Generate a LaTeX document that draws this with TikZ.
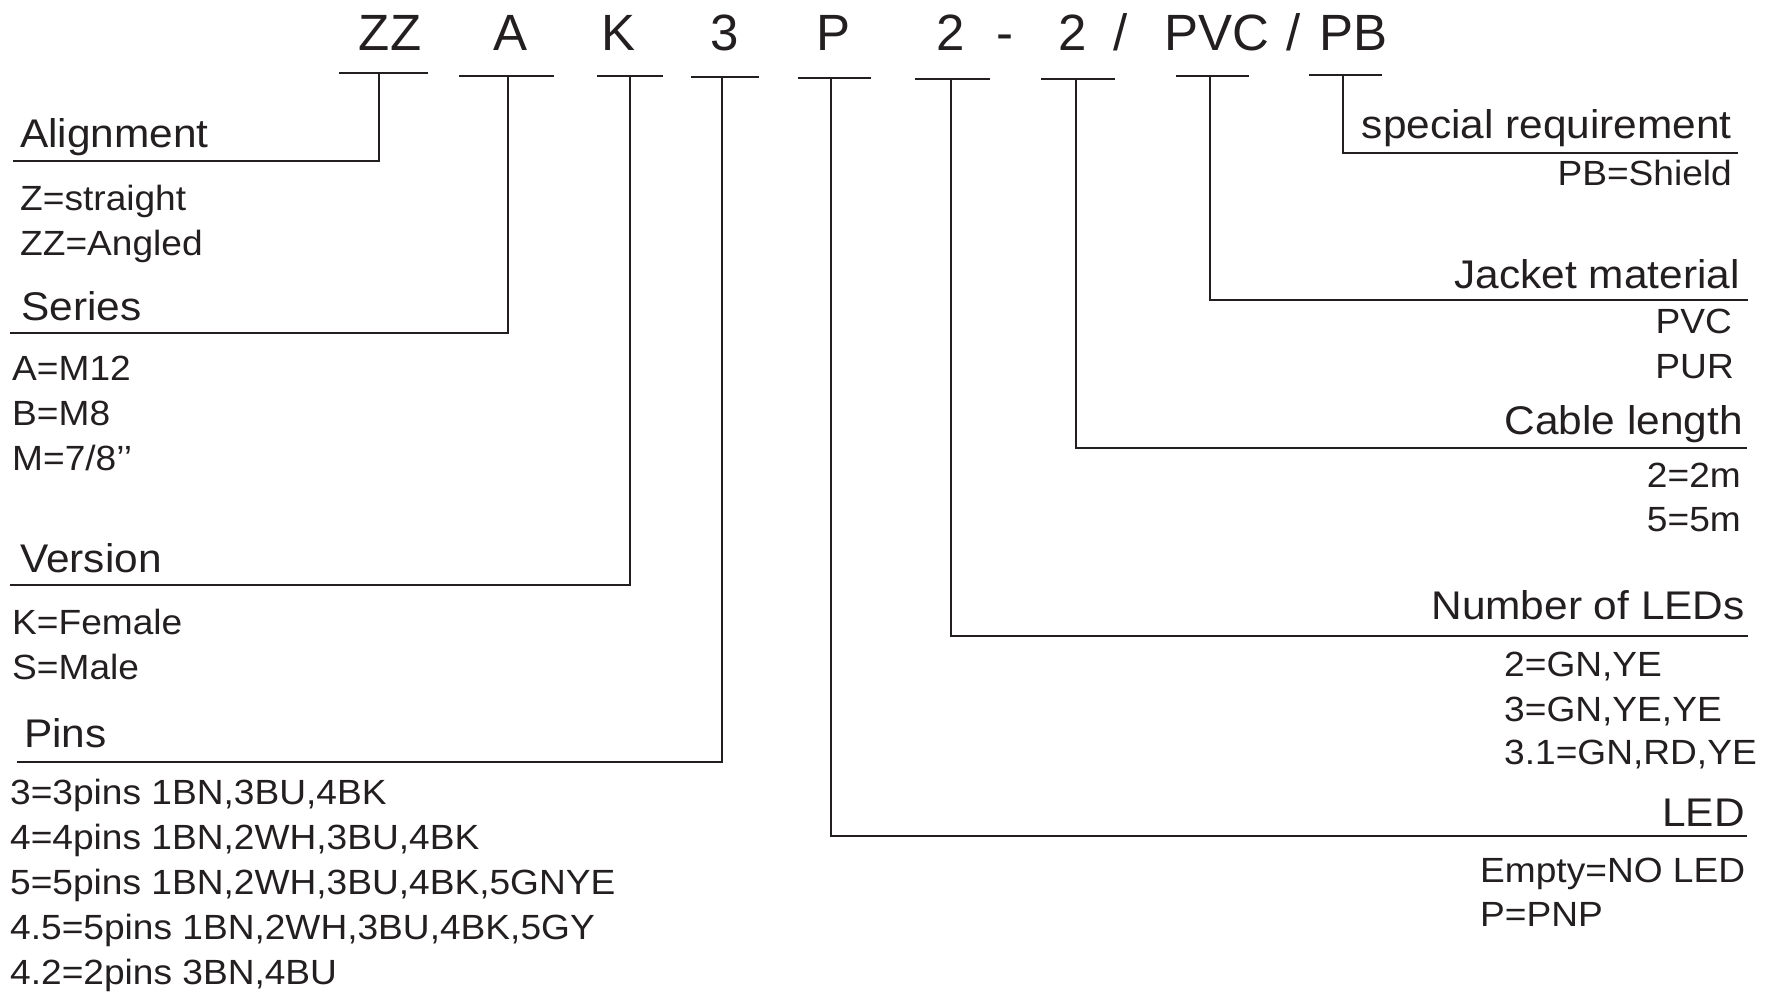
\documentclass[tikz,border=0pt]{standalone}
\usepackage{fontspec}
\setmainfont{Liberation Sans}
\newfontfamily\widefont[FakeStretch=1.06]{Liberation Sans}
\definecolor{ink}{RGB}{35,31,32}
\tikzset{
  code/.style={anchor=base, inner sep=0pt, font=\fontsize{51}{60}\selectfont, text=ink},
  cat/.style={inner sep=0pt, font=\widefont\fontsize{40}{48}\selectfont, text=ink},
  val/.style={inner sep=0pt, font=\widefont\fontsize{35}{42}\selectfont, text=ink},
  uline/.style={draw=ink, line width=2.6pt},
  leader/.style={draw=ink, line width=2.6pt},
}
\begin{document}
\begin{tikzpicture}[x=1pt,y=-1pt]
\useasboundingbox (0,0) rectangle (1777,994);
% top code
\node[code] (cZZ) at (390,50) {ZZ};
\node[code] (cA) at (511,50) {A};
\node[code] (cK) at (619,50) {K};
\node[code] (c3) at (725,50) {3};
\node[code] (cP) at (833,50) {P};
\node[code] (cL) at (951,50) {2};
\node[code] (cdash) at (1005,50) {-};
\node[code] (cLen) at (1073,50) {2};
\node[code] (cs1) at (1121,50) {/};
\node[code] (cPVC) at (1217,50) {PVC};
\node[code] (cs2) at (1294,50) {/};
\node[code] (cPB) at (1353,50) {PB};
% underlines
\coordinate (uZZ) at (379,73);  \draw[uline] (339,73) -- (428,73);
\coordinate (uA) at (508,76);   \draw[uline] (459,76) -- (554,76);
\coordinate (uK) at (630,76);   \draw[uline] (597,76) -- (663,76);
\coordinate (u3) at (722,77);   \draw[uline] (691,77) -- (759,77);
\coordinate (uP) at (831,78);   \draw[uline] (798,78) -- (871,78);
\coordinate (uL) at (951,79);   \draw[uline] (915,79) -- (990,79);
\coordinate (uLen) at (1076,79);\draw[uline] (1041,79) -- (1115,79);
\coordinate (uPVC) at (1210,76);\draw[uline] (1176,76) -- (1249,76);
\coordinate (uPB) at (1343,75); \draw[uline] (1309,75) -- (1382,75);
% left categories
\node[cat, anchor=base west] (align) at (20,147) {Alignment};
\node[val, anchor=base west] (v1) at (20,210) {Z=straight};
\node[val, anchor=base west] (v2) at (20,255) {ZZ=Angled};
\node[cat, anchor=base west] (series) at (21,320) {Series};
\node[val, anchor=base west] (v3) at (12,380) {A=M12};
\node[val, anchor=base west] (v4) at (12,425) {B=M8};
\node[val, anchor=base west] (v5) at (12,470) {M=7/8’’};
\node[cat, anchor=base west] (version) at (20,572) {Version};
\node[val, anchor=base west] (v6) at (12,634) {K=Female};
\node[val, anchor=base west] (v7) at (12,679) {S=Male};
\node[cat, anchor=base west] (pins) at (24,747) {Pins};
\node[val, anchor=base west] (v8) at (10,804) {3=3pins 1BN,3BU,4BK};
\node[val, anchor=base west] (v9) at (10,849) {4=4pins 1BN,2WH,3BU,4BK};
\node[val, anchor=base west] (v10) at (10,894) {5=5pins 1BN,2WH,3BU,4BK,5GNYE};
\node[val, anchor=base west] (v11) at (10,939) {4.5=5pins 1BN,2WH,3BU,4BK,5GY};
\node[val, anchor=base west] (v12) at (10,984) {4.2=2pins 3BN,4BU};
% right categories
\node[cat, anchor=base east] (spec) at (1732,138) {special requirement};
\node[val, anchor=base east] (w1) at (1732,185) {PB=Shield};
\node[cat, anchor=base east] (jacket) at (1740,288) {Jacket material};
\node[val, anchor=base east] (w2) at (1732,333) {PVC};
\node[val, anchor=base east] (w3) at (1734,378) {PUR};
\node[cat, anchor=base east] (cable) at (1743,434) {Cable length};
\node[val, anchor=base east] (w4) at (1741,487) {2=2m};
\node[val, anchor=base east] (w5) at (1741,531) {5=5m};
\node[cat, anchor=base east] (nled) at (1745,619) {Number of LEDs};
\node[val, anchor=base west] (w6) at (1504,676) {2=GN,YE};
\node[val, anchor=base west] (w7) at (1504,721) {3=GN,YE,YE};
\node[val, anchor=base west] (w8) at (1504,764) {3.1=GN,RD,YE};
\node[cat, anchor=base east] (led) at (1745,826) {LED};
\node[val, anchor=base west] (w9) at (1480,882) {Empty=NO LED};
\node[val, anchor=base west] (w10) at (1480,926) {P=PNP};
% leaders
\draw[leader] (uZZ) -- (379,161) -- (13,161);
\draw[leader] (uA) -- (508,333) -- (10,333);
\draw[leader] (uK) -- (630,585) -- (10,585);
\draw[leader] (u3) -- (722,762) -- (17,762);
\draw[leader] (uP) -- (831,836) -- (1747,836);
\draw[leader] (uL) -- (951,636) -- (1748,636);
\draw[leader] (uLen) -- (1076,448) -- (1747,448);
\draw[leader] (uPVC) -- (1210,300) -- (1748,300);
\draw[leader] (uPB) -- (1343,153) -- (1738,153);
\end{tikzpicture}
\end{document}
